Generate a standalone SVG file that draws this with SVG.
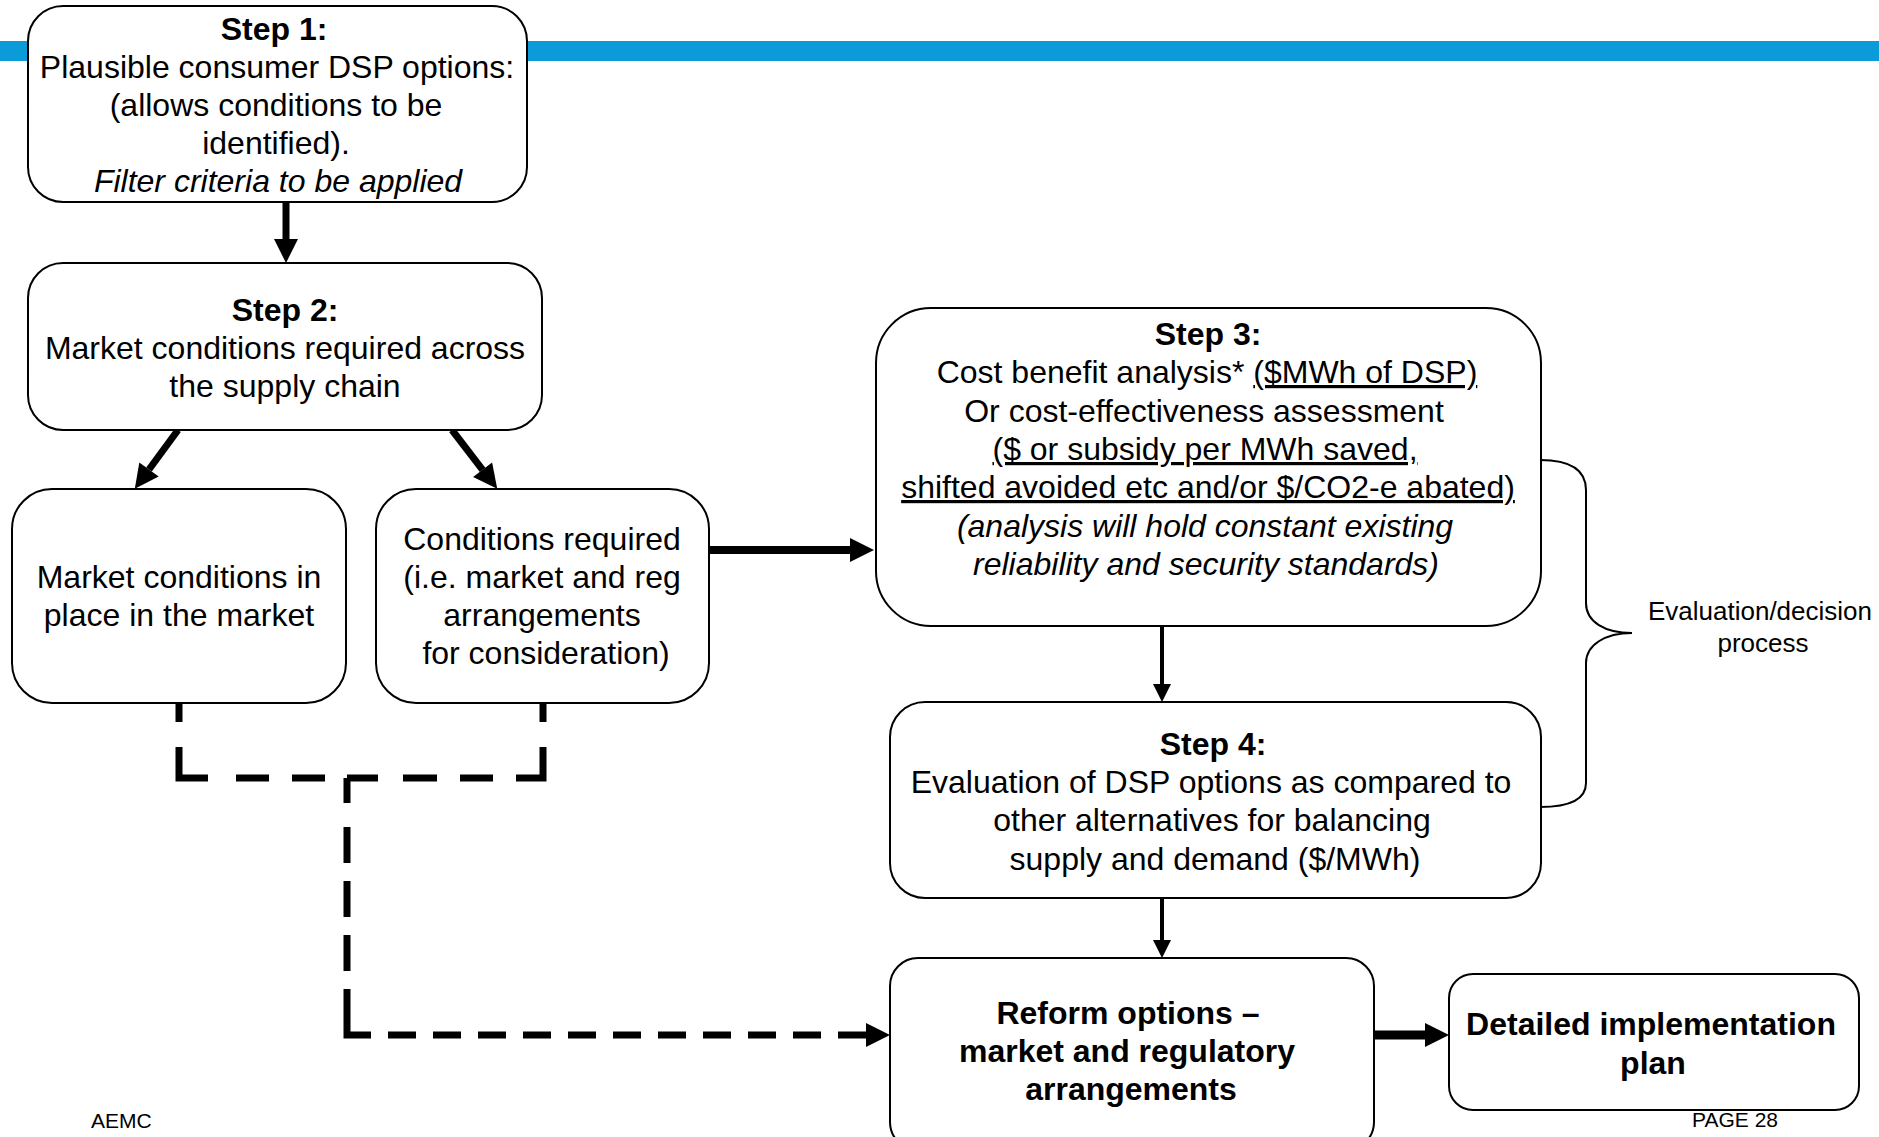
<svg xmlns="http://www.w3.org/2000/svg" width="1879" height="1137" viewBox="0 0 1879 1137">
<style>
text{font-family:"Liberation Sans",Arial,Helvetica,sans-serif;fill:#000}
.t{font-size:32px;text-anchor:middle}
.b{font-weight:bold}
.i{font-style:italic}
.u{text-decoration:underline}
.box{fill:#fff;stroke:#000;stroke-width:2}
.ln{fill:none;stroke:#000}
.dash{fill:none;stroke:#000;stroke-width:7}
.small{font-size:21px}
</style>
<defs>
<marker id="ahThick" markerUnits="userSpaceOnUse" markerWidth="26" markerHeight="26" refX="0" refY="12" orient="auto" overflow="visible"><path d="M0,0 L24,12 L0,24 Z" fill="#000"/></marker>
<marker id="ahSmall" markerUnits="userSpaceOnUse" markerWidth="20" markerHeight="20" refX="0" refY="9" orient="auto" overflow="visible"><path d="M0,0 L18,9 L0,18 Z" fill="#000"/></marker>
</defs>
<rect id="topbar" x="0" y="41" width="1879" height="20" fill="#0b9bd9"/>

<g id="connectors">
<path class="ln" stroke-width="7" d="M286,202 V239" marker-end="url(#ahThick)"/>
<path class="ln" stroke-width="7" d="M178,430 L149,469.5" marker-end="url(#ahThick)"/>
<path class="ln" stroke-width="7" d="M452,430 L482.6,469.8" marker-end="url(#ahThick)"/>
<path class="ln" stroke-width="8" d="M709,550 H850" marker-end="url(#ahThick)"/>
<path class="ln" stroke-width="4" d="M1162,626 V684" marker-end="url(#ahSmall)"/>
<path class="ln" stroke-width="4" d="M1162,898 V940" marker-end="url(#ahSmall)"/>
<path class="ln" stroke-width="9" d="M1374,1035 H1425" marker-end="url(#ahThick)"/>
<path class="dash" d="M179,703 V778 H543 V703" stroke-dasharray="19 25 60 28 33 23 33 22 31 25 34 23 33 23 58 25 19"/>
<path class="dash" d="M347,778 V1035 H866" stroke-dasharray="25 24 36 18 36 18 36 18 70 17 28 17 28 17 28 17 28 17 28 17 28 17 28 17 28 17 28 17 28 17 28" marker-end="url(#ahThick)"/>
<path id="brace" class="ln" stroke-width="2" d="M1540,460 C1570,460 1586,470 1586,490 V603 C1586,622 1605,633 1632,633 C1605,633 1586,645 1586,663 V783 C1586,800 1570,807 1540,807"/>
</g>

<g id="step1">
<rect class="box" x="28" y="6" width="499" height="196" rx="35"/>
<text class="t b" x="274" y="40">Step 1:</text>
<text class="t" x="277" y="78">Plausible consumer DSP options:</text>
<text class="t" x="276" y="116">(allows conditions to be</text>
<text class="t" x="276" y="154">identified).</text>
<text class="t i" x="278" y="192">Filter criteria to be applied</text>
</g>

<g id="step2">
<rect class="box" x="28" y="263" width="514" height="167" rx="35"/>
<text class="t b" x="285" y="321">Step 2:</text>
<text class="t" x="285" y="359">Market conditions required across</text>
<text class="t" x="285" y="397">the supply chain</text>
</g>

<g id="market-conditions">
<rect class="box" x="12" y="489" width="334" height="214" rx="40"/>
<text class="t" x="179" y="588">Market conditions in</text>
<text class="t" x="179" y="626">place in the market</text>
</g>

<g id="conditions-required">
<rect class="box" x="376" y="489" width="333" height="214" rx="40"/>
<text class="t" x="542" y="550">Conditions required</text>
<text class="t" x="542" y="588">(i.e. market and reg</text>
<text class="t" x="542" y="626">arrangements</text>
<text class="t" x="546" y="664">for consideration)</text>
</g>

<g id="step3">
<rect class="box" x="876" y="308" width="665" height="318" rx="55"/>
<text class="t b" x="1208" y="345">Step 3:</text>
<text class="t" x="1207" y="383">Cost benefit analysis* <tspan class="u">($MWh of DSP)</tspan></text>
<text class="t" x="1204" y="422">Or cost-effectiveness assessment</text>
<text class="t u" x="1205" y="460">($ or subsidy per MWh saved,</text>
<text class="t u" x="1208" y="498">shifted avoided etc and/or $/CO2-e abated)</text>
<text class="t i" x="1205" y="537">(analysis will hold constant existing</text>
<text class="t i" x="1206" y="575">reliability and security standards)</text>
</g>

<g id="step4">
<rect class="box" x="890" y="702" width="651" height="196" rx="35"/>
<text class="t b" x="1213" y="755">Step 4:</text>
<text class="t" x="1211" y="793">Evaluation of DSP options as compared to</text>
<text class="t" x="1212" y="831">other alternatives for balancing</text>
<text class="t" x="1215" y="870">supply and demand ($/MWh)</text>
</g>

<g id="evaluation-label">
<text x="1760" y="620" font-size="26" text-anchor="middle">Evaluation/decision</text>
<text x="1763" y="652" font-size="26" text-anchor="middle">process</text>
</g>

<g id="reform">
<rect class="box" x="890" y="958" width="484" height="192" rx="28"/>
<text class="t b" x="1128" y="1024">Reform options –</text>
<text class="t b" x="1127" y="1062">market and regulatory</text>
<text class="t b" x="1131" y="1100">arrangements</text>
</g>

<g id="implementation">
<rect class="box" x="1449" y="974" width="410" height="136" rx="24"/>
<text class="t b" x="1651" y="1035">Detailed implementation</text>
<text class="t b" x="1653" y="1074">plan</text>
</g>

<g id="footer">
<text class="small" x="91" y="1128">AEMC</text>
<text class="small" x="1692" y="1127">PAGE 28</text>
</g>
</svg>
